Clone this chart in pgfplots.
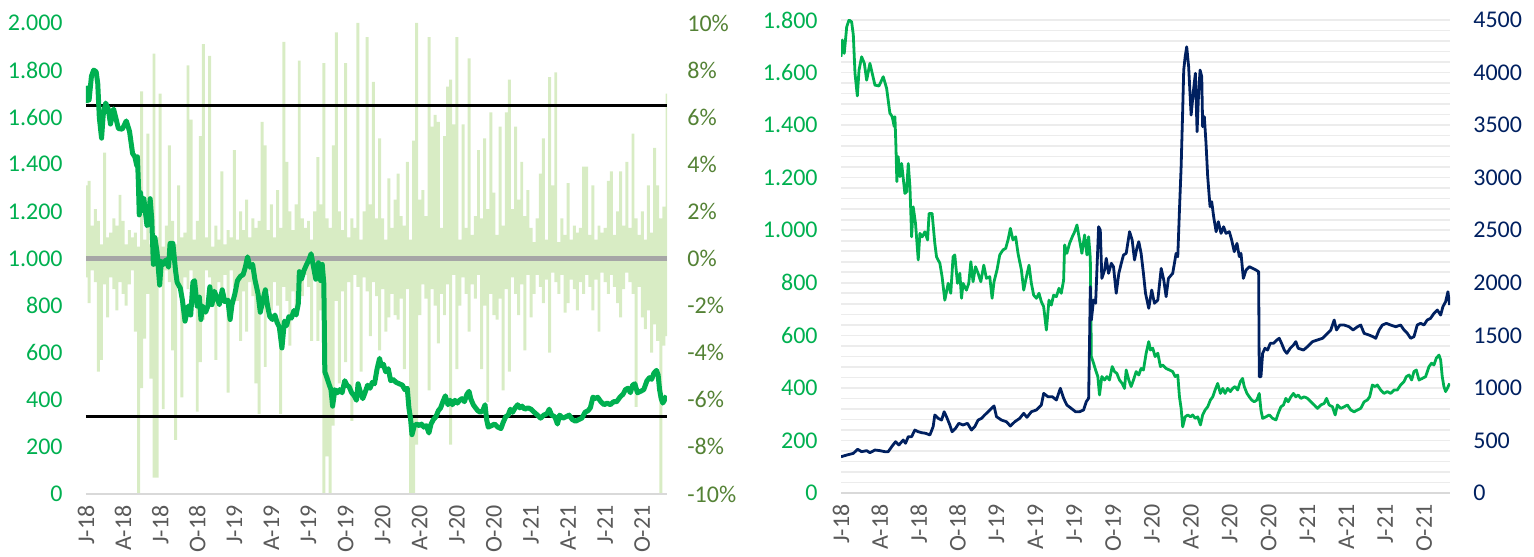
\documentclass[border=0pt]{standalone}
\usepackage{pgfplots}
\pgfplotsset{compat=1.18}
\usepackage{pgfplotstable}
\usepackage{fontspec}
\setmainfont{Carlito}
\definecolor{lgreen}{RGB}{0,176,80}
\definecolor{olivelab}{RGB}{84,130,53}
\definecolor{navy}{RGB}{0,32,96}
\definecolor{labgrey}{RGB}{89,89,89}
\definecolor{barcol}{RGB}{216,236,196}
\definecolor{zerogrey}{RGB}{166,166,166}
\definecolor{axisgrey}{RGB}{217,217,217}
\definecolor{gridgrey}{RGB}{236,236,236}

\pgfplotstableread{
x pos neg
0 3.1 -0.8
0.25 3.3 -1.9
0.5 1.4 -0.5
0.75 2.1 -1.0
1 1.6 -4.8
1.25 0.6 -4.3
1.5 4.5 -1.1
1.75 0.9 -2.5
2 1.1 -0.8
2.25 1.7 -1.3
2.5 1.4 -2.2
2.75 2.7 -1.0
3 1.6 -1.5
3.25 0.6 -2.0
3.5 1.2 -1.1
3.75 0.9 -0.5
4 1.1 -3.1
4.25 0.5 -10
4.5 7.1 -5.5
4.75 0.8 -3.4
5 5.3 -1.5
5.25 0.6 -5.1
5.5 8.7 -9.3
5.75 0.9 -9.3
6 7.0 -0.8
6.25 0.5 -6.4
6.5 1.4 -0.5
6.75 4.8 -1.0
7 1.6 -3.9
7.25 0.6 -7.7
7.5 3.1 -1.1
7.75 0.9 -5.9
8 1.1 -0.8
8.25 8.2 -1.3
8.5 5.9 -0.5
8.75 0.8 -1.0
9 1.6 -6.5
9.25 5.2 -4.4
9.5 9.1 -2.6
9.75 0.9 -0.5
10 8.6 -0.8
10.25 0.5 -1.3
10.5 1.4 -4.3
10.75 0.8 -1.0
11 3.7 -1.5
11.25 0.6 -0.7
11.5 1.2 -5.7
11.75 0.9 -0.5
12 4.6 -1.2
12.25 0.8 -1.8
12.5 2.0 -3.5
12.75 1.2 -1.4
13 2.5 -3.1
13.25 0.9 -1.0
13.5 1.7 -1.6
13.75 1.3 -5.3
14 1.6 -6.6
14.25 5.8 -1.8
14.5 4.8 -4.6
14.75 1.2 -1.4
15 2.3 -2.2
15.25 0.9 -1.0
15.5 2.9 -2.0
15.75 1.3 -6.6
16 9.2 -1.2
16.25 4.1 -1.8
16.5 2.0 -3.7
16.75 1.2 -1.4
17 2.3 -2.2
17.25 8.4 -1.0
17.5 1.7 -1.6
17.75 1.3 -0.7
18 1.6 -1.2
18.25 0.8 -3.5
18.5 2.0 -0.8
18.75 4.3 -3.5
19 2.3 -2.2
19.25 8.3 -10
19.5 1.7 -8.4
19.75 1.3 -10
20 4.8 -7.1
20.25 9.6 -1.8
20.5 2.0 -5.3
20.75 1.2 -1.4
21 8.3 -4.4
21.25 0.9 -1.0
21.5 1.7 -6.9
21.75 1.3 -0.7
22 10 -1.2
22.25 0.8 -4.8
22.5 2.0 -0.8
22.75 9.4 -1.4
23 2.3 -3.3
23.25 7.5 -1.0
23.5 1.7 -1.6
23.75 5.1 -3.9
24 1.7 -1.3
24.25 0.8 -3.1
24.5 3.4 -2.5
24.75 1.3 -1.5
25 2.5 -2.4
25.25 3.6 -2.6
25.5 1.8 -1.7
25.75 1.4 -4.7
26 4.1 -1.3
26.25 0.8 -10
26.5 5.0 -10
26.75 10 -7.9
27 2.5 -2.4
27.25 2.9 -1.1
27.5 1.8 -1.7
27.75 9.4 -5.6
28 5.6 -1.3
28.25 6.1 -2.0
28.5 5.8 -3.6
28.75 1.3 -1.5
29 5.2 -2.4
29.25 7.3 -1.1
29.5 7.6 -7.9
29.75 5.7 -0.7
30 9.4 -4.7
30.25 0.8 -2.0
30.5 5.7 -0.8
30.75 1.3 -1.5
31 8.5 -3.1
31.25 1.0 -1.1
31.5 1.8 -1.7
31.75 4.6 -0.7
32 1.7 -4.7
32.25 5.1 -2.0
32.5 2.1 -6.1
32.75 6.2 -1.5
33 2.8 -2.4
33.25 1.0 -2.6
33.5 5.6 -1.7
33.75 1.4 -5.6
34 6.2 -1.3
34.25 7.6 -4.8
34.5 2.1 -0.8
34.75 5.6 -1.5
35 2.5 -2.4
35.25 4.1 -1.1
35.5 1.8 -3.9
35.75 2.9 -0.7
36 1.3 -2.5
36.25 0.7 -1.5
36.5 1.7 -0.7
36.75 3.6 -1.2
37 5.1 -1.9
37.25 0.8 -0.9
37.5 7.7 -4.0
37.75 3.1 -0.6
38 7.9 -1.0
38.25 0.7 -1.5
38.5 1.7 -0.7
38.75 1.0 -2.3
39 3.2 -1.9
39.25 0.8 -0.9
39.5 1.4 -1.3
39.75 1.1 -2.2
40 1.3 -1.0
40.25 3.9 -1.5
40.5 3.9 -0.7
40.75 1.0 -1.2
41 3.1 -2.2
41.25 0.8 -0.9
41.5 1.4 -3.1
41.75 1.1 -0.6
42 1.3 -1.0
42.25 3.3 -1.5
42.5 3.7 -0.7
42.75 1.0 -1.2
43 2.0 -1.9
43.25 3.7 -2.5
43.5 1.4 -1.3
43.75 4.1 -0.6
44 1.3 -1.0
44.25 5.3 -1.5
44.5 1.7 -6.3
44.75 1.0 -1.2
45 2.0 -2.5
45.25 0.8 -3.0
45.5 3.1 -2.2
45.75 1.1 -4.0
46 4.7 -2.8
46.25 3.1 -3.5
46.5 1.7 -10
46.75 2.2 -3.7
47 7.0 -3.3
}\bars

\pgfplotstableread{
x y
0 1660
0.1 1724
0.25 1673
0.44 1774
0.62 1800
0.82 1793
0.95 1743
1.08 1597
1.26 1511
1.39 1609
1.59 1660
1.80 1635
1.98 1571
2.23 1635
2.41 1597
2.62 1552
2.93 1549
3.26 1584
3.52 1540
3.77 1446
3.95 1432
4.11 1394
4.16 1432
4.24 1318
4.31 1185
4.41 1280
4.55 1204
4.68 1254
4.93 1140
5.06 1146
5.19 1254
5.32 1165
5.45 975
5.57 1089
5.75 1026
5.96 887
6.09 988
6.27 975
6.47 994
6.68 963
6.80 1064
7.03 1064
7.24 950
7.37 899
7.63 874
7.80 823
8.01 734
8.27 798
8.47 760
8.65 899
8.78 906
8.99 798
9.17 836
9.30 741
9.42 798
9.68 772
9.86 798
10.02 880
10.19 804
10.38 861
10.58 836
10.79 804
11.02 867
11.22 817
11.48 823
11.66 741
11.81 804
12.04 849
12.25 906
12.50 925
12.71 931
12.89 963
13.07 1007
13.27 963
13.48 975
13.66 912
13.92 849
14.10 772
14.31 823
14.51 867
14.69 798
14.87 753
15.08 741
15.28 760
15.46 728
15.64 709
15.85 620
16.05 734
16.23 715
16.41 753
16.62 747
16.82 779
17.00 760
17.18 810
17.26 944
17.43 912
17.64 950
17.85 975
18.03 994
18.21 1020
18.41 963
18.59 912
18.80 982
18.98 906
19.11 975
19.24 893
19.32 519
19.49 494
19.65 468
19.82 443
19.95 373
20.13 443
20.34 430
20.52 443
20.72 430
20.93 481
21.11 462
21.29 455
21.49 430
21.70 417
21.88 398
22.01 468
22.21 430
22.39 405
22.57 430
22.78 462
22.98 449
23.16 474
23.34 468
23.55 532
23.75 576
23.88 544
24.06 551
24.24 519
24.45 532
24.65 481
24.83 487
25.09 474
25.35 468
25.60 462
25.79 443
25.99 449
26.12 366
26.25 322
26.37 252
26.56 290
26.76 297
26.97 290
27.14 297
27.33 284
27.53 290
27.74 259
27.91 297
28.10 316
28.30 328
28.51 354
28.69 366
28.87 392
29.07 417
29.28 379
29.46 398
29.64 379
29.84 398
30.05 386
30.22 398
30.41 405
30.61 392
30.82 424
30.99 436
31.12 405
31.33 379
31.51 366
31.69 354
31.89 347
32.10 354
32.28 379
32.41 316
32.54 284
32.79 290
33.05 297
33.31 284
33.57 278
33.74 303
33.95 328
34.15 335
34.33 360
34.51 347
34.72 366
34.92 379
35.10 366
35.28 373
35.49 360
35.75 366
36.00 360
36.26 347
36.52 335
36.77 322
37.03 335
37.29 341
37.47 360
37.67 335
37.93 328
38.14 297
38.31 335
38.57 322
38.83 328
39.08 335
39.34 316
39.60 309
39.86 316
40.11 322
40.37 347
40.62 354
40.80 366
41.01 411
41.22 405
41.39 411
41.65 392
41.91 379
42.16 386
42.42 379
42.68 392
42.93 392
43.19 411
43.45 424
43.63 443
43.84 449
44.04 430
44.22 462
44.40 468
44.61 430
44.86 436
45.12 443
45.38 481
45.58 494
45.76 487
45.94 513
46.15 525
46.28 506
46.40 443
46.53 405
46.66 386
46.79 398
46.97 417
}\greenser

\pgfplotstableread{
x y
0 345
0.44 361
0.95 377
1.28 416
1.59 393
1.98 403
2.23 383
2.62 409
3.00 403
3.39 393
3.64 393
3.95 447
4.21 488
4.47 457
4.80 504
4.98 473
5.19 536
5.45 536
5.70 599
5.96 583
6.22 574
6.53 568
6.86 552
7.11 631
7.24 742
7.50 710
7.76 694
7.96 773
8.14 726
8.40 647
8.57 583
8.84 615
9.09 663
9.42 647
9.76 663
10.07 599
10.32 631
10.58 694
10.84 710
11.09 742
11.35 773
11.61 805
11.81 828
12.00 726
12.38 694
12.77 678
13.07 637
13.41 678
13.79 710
14.10 758
14.35 720
14.69 773
15.08 790
15.46 837
15.64 948
15.97 916
16.31 916
16.62 885
16.93 996
17.18 901
17.43 837
17.77 805
18.10 773
18.41 773
18.72 790
18.93 869
19.11 901
19.18 1424
19.24 1963
19.32 1646
19.49 1836
19.65 1805
19.75 2121
19.88 2533
20.01 2502
20.13 2042
20.34 2121
20.47 2233
20.65 2090
20.86 2185
21.03 2153
21.24 1900
21.44 2090
21.63 2185
21.80 2264
22.01 2280
22.27 2486
22.47 2407
22.65 2217
22.83 2328
22.98 2391
23.16 2280
23.34 2090
23.50 1900
23.75 1757
23.98 1931
24.19 1805
24.45 1836
24.71 2137
24.91 2026
25.09 1868
25.27 2042
25.60 2090
25.86 2280
25.99 2248
26.12 2692
26.25 3104
26.37 3643
26.45 4024
26.56 4150
26.68 4245
26.83 4055
27.02 3596
27.22 3850
27.35 3993
27.48 3437
27.58 3755
27.71 4024
27.84 3961
27.91 3485
28.04 3580
28.17 3327
28.30 3009
28.48 2724
28.61 2771
28.76 2628
28.95 2486
29.12 2581
29.33 2470
29.53 2533
29.71 2470
29.97 2486
30.15 2407
30.35 2296
30.56 2375
30.74 2248
30.87 2280
31.05 2042
31.26 2121
31.51 2153
31.77 2137
32.03 2121
32.23 2105
32.28 1106
32.41 1106
32.54 1329
32.72 1377
32.92 1360
33.13 1424
33.38 1424
33.64 1456
33.82 1472
34.00 1424
34.21 1360
34.41 1329
34.67 1377
34.92 1408
35.10 1440
35.28 1377
35.69 1360
36.00 1392
36.39 1440
36.77 1456
37.16 1472
37.54 1519
37.80 1551
38.06 1646
38.24 1551
38.50 1598
38.83 1598
39.21 1582
39.52 1551
39.86 1582
40.11 1598
40.37 1519
40.75 1503
41.06 1487
41.27 1472
41.53 1551
41.78 1598
42.09 1614
42.42 1598
42.81 1582
43.19 1598
43.45 1551
43.71 1519
43.96 1472
44.22 1487
44.47 1598
44.73 1614
44.99 1598
45.24 1646
45.50 1662
45.76 1709
46.02 1741
46.28 1693
46.45 1772
46.66 1820
46.84 1915
46.97 1788
}\navyser

\pgfplotsset{
  panel/.style={scale only axis, anchor=south west, xmin=0, xmax=47,
    axis line style={draw=none}, tick style={draw=none},
    major tick length=0pt, minor tick length=0pt,
    tick label style={font=\fontsize{12}{14}\selectfont, inner sep=0pt}},
  xlabs/.style={xtick={0,3,...,45},
    xticklabels={J-18,A-18,J-18,O-18,J-19,A-19,J-19,O-19,J-20,A-20,J-20,O-20,J-21,A-21,J-21,O-21},
    xticklabel style={rotate=90, anchor=east, text=labgrey},
    xticklabel shift=5.5pt},
}

\begin{document}
\begin{tikzpicture}
\useasboundingbox (0,0) rectangle (767pt,278pt);

% ---------- left panel: returns bars (right axis)
\begin{axis}[panel, at={(43pt,31pt)}, width=290.5pt, height=235.5pt,
  ymin=-10, ymax=10, xtick=\empty,
  yticklabel pos=right, ytick={-10,-8,...,10},
  yticklabels={-10\%,-8\%,-6\%,-4\%,-2\%,0\%,2\%,4\%,6\%,8\%,10\%},
  yticklabel style={text=olivelab, anchor=west}, yticklabel shift=10pt]
\addplot[ybar, bar shift=0pt, bar width=0.24, fill=barcol, draw=none] table[x=x,y=pos]{\bars};
\addplot[ybar, bar shift=0pt, bar width=0.24, fill=barcol, draw=none] table[x=x,y=neg]{\bars};
\addplot[zerogrey, line width=2.5pt, no marks] coordinates {(0,0) (47,0)};
\end{axis}

% ---------- left panel: price (left axis)
\begin{axis}[panel, xlabs, at={(43pt,31pt)}, width=290.5pt, height=235.5pt,
  ymin=0, ymax=2000, ytick={0,200,...,2000},
  yticklabels={0,200,400,600,800,1.000,1.200,1.400,1.600,1.800,2.000},
  yticklabel pos=left, yticklabel style={text=lgreen, anchor=east}, yticklabel shift=11.5pt]
\addplot[axisgrey, line width=1pt, no marks] coordinates {(0,0) (47,0)};
\addplot[black, line width=1.4pt, no marks] coordinates {(0,1650) (47,1650)};
\addplot[black, line width=1.4pt, no marks] coordinates {(0,330) (47,330)};
\addplot[lgreen, line width=2.5pt, line join=round, no marks] table[x=x,y=y]{\greenser};
\end{axis}

% ---------- right panel: green (left axis)
\begin{axis}[panel, xlabs, at={(420.5pt,31.5pt)}, width=304.5pt, height=236.5pt,
  ymin=0, ymax=1800, ytick={0,200,...,1800}, minor y tick num=4,
  ymajorgrids, yminorgrids,
  major grid style={gridgrey, line width=0.8pt},
  minor grid style={gridgrey, line width=0.8pt},
  yticklabels={0,200,400,600,800,1.000,1.200,1.400,1.600,1.800},
  yticklabel pos=left, yticklabel style={text=lgreen, anchor=east}, yticklabel shift=11.5pt]
\addplot[axisgrey, line width=1pt, no marks] coordinates {(0,0) (47,0)};
\addplot[lgreen, line width=1.4pt, line join=round, no marks] table[x=x,y=y]{\greenser};
\end{axis}

% ---------- right panel: navy (right axis)
\begin{axis}[panel, at={(420.5pt,31.5pt)}, width=304.5pt, height=236.5pt,
  ymin=0, ymax=4500, xtick=\empty, ytick={0,500,...,4500},
  yticklabels={0,500,1000,1500,2000,2500,3000,3500,4000,4500},
  yticklabel pos=right, yticklabel style={text=navy, anchor=west}, yticklabel shift=11.5pt]
\addplot[navy, line width=1.4pt, line join=round, no marks] table[x=x,y=y]{\navyser};
\end{axis}
\end{tikzpicture}
\end{document}
